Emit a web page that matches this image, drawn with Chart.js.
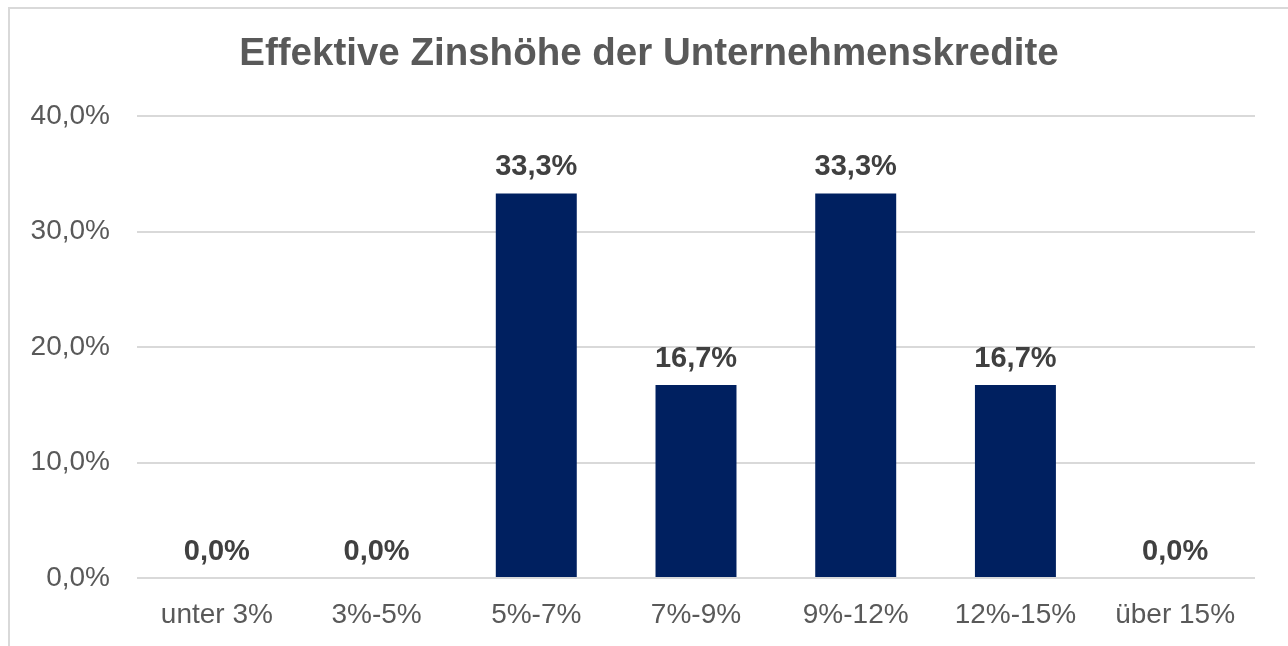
<!DOCTYPE html>
<html>
<head>
<meta charset="utf-8">
<script src="https://cdn.jsdelivr.net/npm/chart.js@4"></script>
<style>
  html, body { margin: 0; padding: 0; background: #fff; }
  #wrap { position: relative; width: 1288px; height: 646px; overflow: hidden; }
  #frame { position: absolute; left: 8px; top: 7px; width: 1400px; height: 800px; border: 2px solid #d9d9d9; box-sizing: border-box; }
  #c { position: absolute; left: 0; top: 0; }
</style>
</head>
<body>
<div id="wrap">
  <div id="frame"></div>
  <canvas id="c" width="1288" height="646"></canvas>
</div>
<script>
// chart data
const categories = ['unter 3%', '3%-5%', '5%-7%', '7%-9%', '9%-12%', '12%-15%', 'über 15%'];
const shares = [0.0, 0.0, 33.3, 16.7, 33.3, 16.7, 0.0];
const yTicks = [0, 10, 20, 30, 40];

const chartTitle = 'Effektive Zinshöhe der Unternehmenskredite';

function fmt(v) {
    return v.toFixed(1).replace('.', ',') + '%';
}

// title drawn a bit right of the canvas centre, like the original
const titleText = {
    id: 'titleText',
    afterDraw(chart) {
        const ctx = chart.ctx;
        ctx.save();
        ctx.font = 'bold 38.5px "Liberation Sans", Arial, sans-serif';
        ctx.fillStyle = '#595959';
        ctx.textAlign = 'center';
        ctx.textBaseline = 'alphabetic';
        ctx.fillText(chartTitle, 649, 65);
        ctx.restore();
    }
};

// draw the value above every bar
const valueLabels = {
    id: 'valueLabels',
    afterDatasetsDraw(chart) {
        const ctx = chart.ctx;
        const meta = chart.getDatasetMeta(0);
        ctx.save();
        ctx.font = 'bold 29px "Liberation Sans", Arial, sans-serif';
        ctx.fillStyle = '#404040';
        ctx.textAlign = 'center';
        ctx.textBaseline = 'alphabetic';
        meta.data.forEach((bar, i) => {
            ctx.fillText(fmt(shares[i]), bar.x, bar.y - 18);
        });
        ctx.restore();
    }
};

const ctx = document.getElementById('c').getContext('2d');
const chart = new Chart(ctx, {
    type: 'bar',
    data: {
        labels: categories,
        datasets: [{
            data: shares,
            backgroundColor: '#002060',
            categoryPercentage: 1,
            barPercentage: 0.507
        }]
    },
    options: {
        responsive: false,
        animation: false,
        layout: { padding: { left: 20, right: 33, top: 116, bottom: 0 } },
        plugins: {
            legend: { display: false },
            tooltip: { enabled: false },
            title: { display: false }
        },
        scales: {
            x: {
                grid: { display: false, drawTicks: false },
                border: { display: false },
                ticks: {
                    color: '#595959',
                    font: { family: '"Liberation Sans", Arial, sans-serif', size: 28 },
                    padding: 20,
                    maxRotation: 0
                },
                afterFit(scale) { scale.height = 68; }
            },
            y: {
                min: 0,
                max: 40,
                afterBuildTicks(scale) { scale.ticks = yTicks.map(v => ({ value: v })); },
                grid: { color: '#d9d9d9', lineWidth: 2, drawTicks: false },
                border: { display: false },
                ticks: {
                    color: '#595959',
                    font: { family: '"Liberation Sans", Arial, sans-serif', size: 28 },
                    padding: 27,
                    callback: v => fmt(v)
                },
                afterFit(scale) { scale.width = 117; }
            }
        }
    },
    plugins: [valueLabels, titleText]
});
</script>
</body>
</html>
